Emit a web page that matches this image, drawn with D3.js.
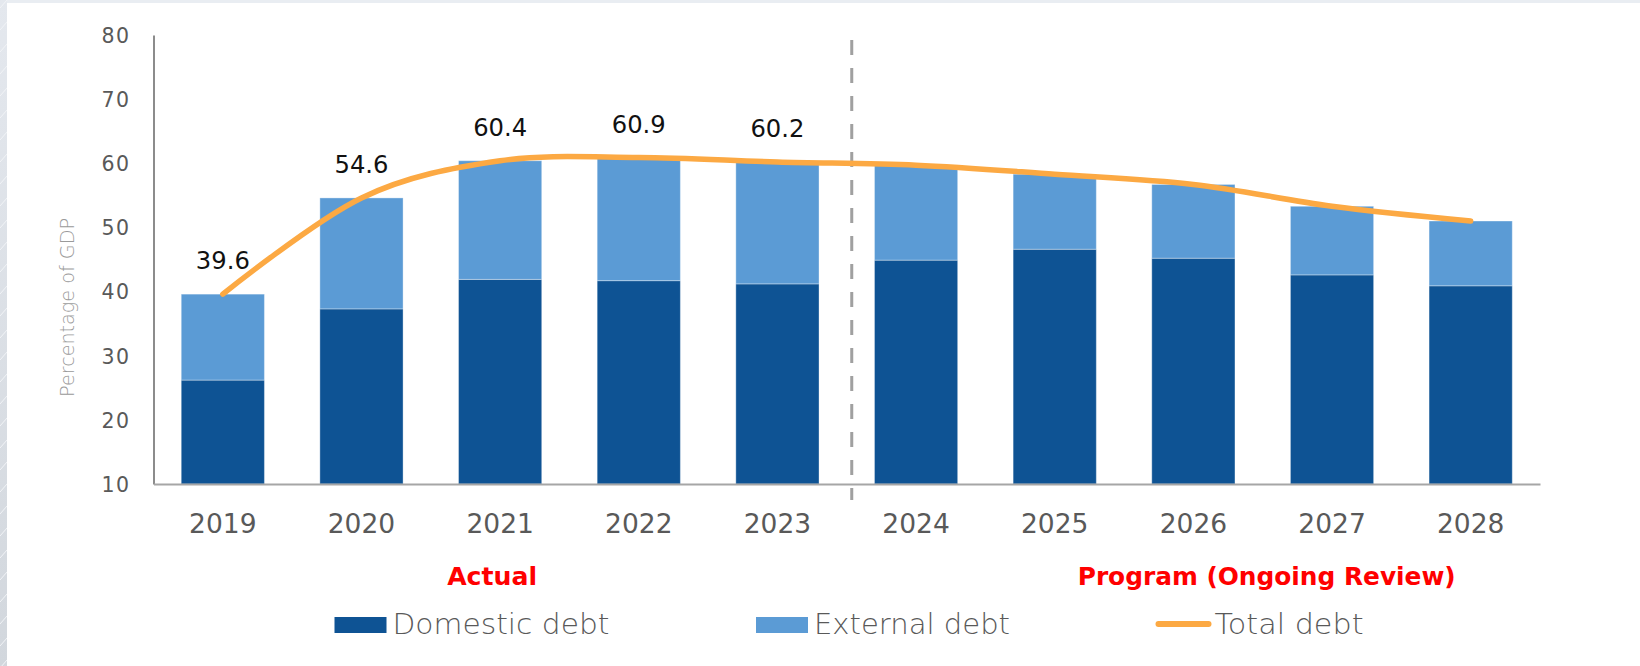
<!DOCTYPE html>
<html>
<head>
<meta charset="utf-8">
<script src="https://cdn.jsdelivr.net/npm/d3@7"></script>
<style>
  html, body { margin: 0; padding: 0; background: #e9edf2; }
  svg { display: block; }
</style>
</head>
<body>
<script>
// Public debt, percentage of GDP
const years = ["2019", "2020", "2021", "2022", "2023", "2024", "2025", "2026", "2027", "2028"];
const domesticDebt = [26.2, 37.3, 41.9, 41.7, 41.2, 44.9, 46.6, 45.2, 42.6, 40.9];
const externalDebt = [13.4, 17.3, 18.5, 19.2, 19.0, 14.8, 11.7, 11.5, 10.7, 10.1];
const totalDebt    = [39.6, 54.6, 60.4, 60.9, 60.2, 59.7, 58.3, 56.7, 53.3, 51.0];
const labelledYears = ["2019", "2020", "2021", "2022", "2023"];
const yTicks = [10, 20, 30, 40, 50, 60, 70, 80];
const firstProjectionYear = "2024";
const phaseActual = "Actual";
const phaseProgram = "Program (Ongoing Review)";
const seriesNames = ["Domestic debt", "External debt", "Total debt"];
const yTitle = "Percentage of GDP";

const W = 1640, H = 666;
const colDomestic = "#0e5394";
const colExternal = "#5b9bd5";
const colTotal = "#fca943";
const font = "'DejaVu Sans', sans-serif";

const svg = d3.select("body").append("svg").attr("width", W).attr("height", H);

// slide backdrop with a pale strip along the left and top edges
const defs = svg.append("defs");
const grad = defs.append("linearGradient").attr("id", "edge").attr("x1", 0).attr("y1", 0).attr("x2", 0).attr("y2", 1);
grad.append("stop").attr("offset", "0%").attr("stop-color", "#e4e8ee");
grad.append("stop").attr("offset", "100%").attr("stop-color", "#d2d7dd");
svg.append("rect").attr("width", W).attr("height", H).attr("fill", "#e9edf2");
svg.append("rect").attr("x", 0).attr("y", 0).attr("width", 7).attr("height", H).attr("fill", "url(#edge)");
const streaks = d3.range(0, H, 22);
svg.append("g").selectAll("line").data(streaks).join("line")
  .attr("x1", 0).attr("x2", 7)
  .attr("y1", d => d + 8).attr("y2", d => d)
  .attr("stroke", "#f1f3f6").attr("stroke-width", 1);
svg.append("rect").attr("x", 7).attr("y", 3).attr("width", W - 7).attr("height", H - 3).attr("fill", "#ffffff");

// scales
const x = d3.scaleBand().domain(years).range([153.5, 1540]).paddingInner(0.4).paddingOuter(0.2);
const y = d3.scaleLinear().domain([10, 80]).range([484, 35]);
const bw = x.bandwidth();

// stacked bars
const rows = years.map((yr, i) => ({ yr, dom: domesticDebt[i], ext: externalDebt[i], tot: totalDebt[i] }));
const bars = svg.append("g");
bars.selectAll("rect.dom").data(rows).join("rect")
  .attr("class", "dom")
  .attr("x", d => x(d.yr)).attr("width", bw)
  .attr("y", d => y(d.dom)).attr("height", d => y(10) - y(d.dom))
  .attr("fill", colDomestic)
  .attr("stroke", "#ffffff").attr("stroke-opacity", 0.35).attr("stroke-width", 1);
bars.selectAll("rect.ext").data(rows).join("rect")
  .attr("class", "ext")
  .attr("x", d => x(d.yr)).attr("width", bw)
  .attr("y", d => y(d.dom + d.ext)).attr("height", d => y(d.dom) - y(d.dom + d.ext))
  .attr("fill", colExternal)
  .attr("stroke", "#ffffff").attr("stroke-opacity", 0.35).attr("stroke-width", 1);

// y axis
const yAxis = svg.append("g").attr("transform", `translate(${x.range()[0]},0)`)
  .call(d3.axisLeft(y).tickValues(yTicks).tickSize(0).tickPadding(23).tickFormat(d3.format("d")));
yAxis.select(".domain").attr("stroke", "#8c8c8c").attr("stroke-width", 2);
yAxis.selectAll("text")
  .attr("font-family", font).attr("font-size", 20.5).attr("fill", "#595959")
  .attr("letter-spacing", 1.5).attr("dy", "0.36em");

// x axis
const xAxis = svg.append("g").attr("transform", `translate(0,${y(10)})`)
  .call(d3.axisBottom(x).tickSize(0).tickPadding(30));
xAxis.select(".domain").attr("stroke", "#a6a6a6").attr("stroke-width", 2);
xAxis.selectAll("text")
  .attr("font-family", font).attr("font-size", 26.5).attr("fill", "#595959")
  .attr("dy", "0.71em");

// y axis title
svg.append("text")
  .attr("transform", `translate(74,${(218 + 397) / 2}) rotate(-90)`)
  .attr("text-anchor", "middle")
  .attr("font-family", font).attr("font-size", 19.5).attr("font-weight", 300)
  .attr("fill", "#9a9a9a")
  .attr("textLength", 179).attr("lengthAdjust", "spacingAndGlyphs")
  .text(yTitle);

// divider between actual and programme years
const iSplit = years.indexOf(firstProjectionYear);
const xSplit = (x(years[iSplit - 1]) + bw + x(years[iSplit])) / 2 + 5;
svg.append("line")
  .attr("x1", xSplit).attr("x2", xSplit).attr("y1", 40).attr("y2", 500)
  .attr("stroke", "#a0a0a0").attr("stroke-width", 3)
  .attr("stroke-dasharray", "15,13");

// total debt line
const line = d3.line()
  .x(d => x(d.yr) + bw / 2)
  .y(d => y(d.tot))
  .curve(d3.curveCardinal.tension(0));
svg.append("path").datum(rows)
  .attr("d", line)
  .attr("fill", "none").attr("stroke", colTotal).attr("stroke-width", 5.5)
  .attr("stroke-linecap", "round").attr("stroke-linejoin", "round");

// value labels
svg.append("g").selectAll("text").data(rows.filter(d => labelledYears.includes(d.yr))).join("text")
  .attr("x", d => x(d.yr) + bw / 2)
  .attr("y", d => y(d.tot) - 25)
  .attr("text-anchor", "middle")
  .attr("font-family", font).attr("font-size", 25).attr("fill", "#111111")
  .attr("textLength", 54).attr("lengthAdjust", "spacingAndGlyphs")
  .text(d => d3.format(".1f")(d.tot));

// phase labels
svg.append("text")
  .attr("x", x("2021") + bw / 2 - 8).attr("y", 585)
  .attr("text-anchor", "middle")
  .attr("font-family", font).attr("font-size", 25).attr("font-weight", "bold")
  .attr("fill", "#ff0000")
  .attr("textLength", 90).attr("lengthAdjust", "spacingAndGlyphs")
  .text(phaseActual);
svg.append("text")
  .attr("x", (x("2026") + x("2027")) / 2 + bw / 2 + 4).attr("y", 585)
  .attr("text-anchor", "middle")
  .attr("font-family", font).attr("font-size", 25).attr("font-weight", "bold")
  .attr("fill", "#ff0000")
  .attr("textLength", 378).attr("lengthAdjust", "spacingAndGlyphs")
  .text(phaseProgram);

// legend
const legendX = [334.5, 756, 1155.5];
const legendTextW = [217, 196, 149];
const legend = svg.append("g");
seriesNames.forEach((name, i) => {
  const g = legend.append("g").attr("transform", `translate(${legendX[i]},0)`);
  if (i < 2) {
    g.append("rect").attr("x", 0).attr("y", 617).attr("width", 52).attr("height", 16)
      .attr("fill", i === 0 ? colDomestic : colExternal);
  } else {
    g.append("line").attr("x1", 3).attr("x2", 53).attr("y1", 624).attr("y2", 624)
      .attr("stroke", colTotal).attr("stroke-width", 6).attr("stroke-linecap", "round");
  }
  g.append("text")
    .attr("x", i < 2 ? 58 : 59).attr("y", 634)
    .attr("font-family", font).attr("font-size", 28).attr("font-weight", 300)
    .attr("fill", "#595959")
    .attr("textLength", legendTextW[i]).attr("lengthAdjust", "spacingAndGlyphs")
    .text(name);
});
</script>
</body>
</html>
